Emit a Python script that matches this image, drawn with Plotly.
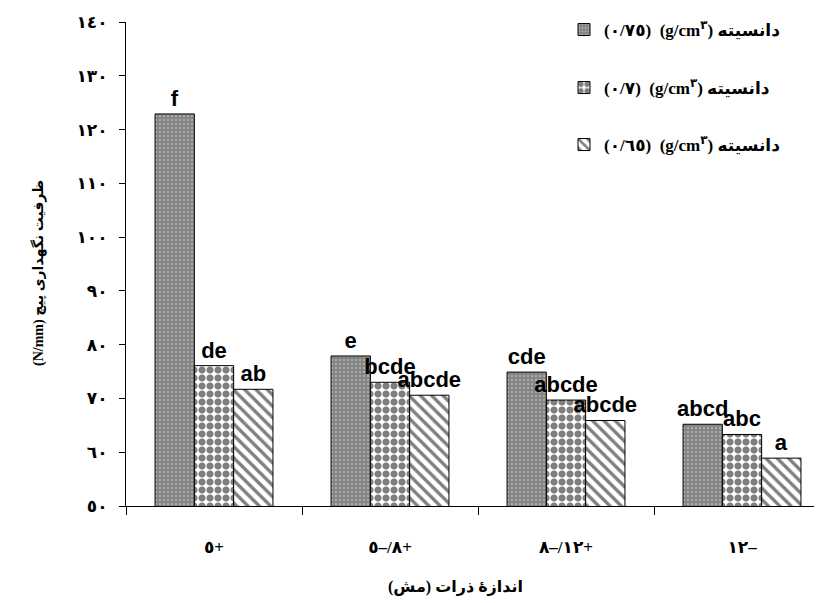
import plotly.graph_objects as go

LRO, PDF, LRM, RLE = "\u202d", "\u202c", "\u200e", "\u202b"

# ---- data ----
categories = ["٥+", "٥–/٨+", "٨–/١٢+", "١٢–"]
density_labels = ["٠/٧٥", "٠/٧", "٠/٦٥"]
s075 = [122.9, 77.9, 74.9, 65.2]
s070 = [76.1, 73.0, 69.7, 63.3]
s065 = [71.7, 70.6, 65.9, 58.9]
l075 = ["f", "e", "cde", "abcd"]
l070 = ["de", "bcde", "abcde", "abc"]
l065 = ["ab", "abcde", "abcde", "a"]
y_ticks = [50, 60, 70, 80, 90, 100, 110, 120, 130, 140]
y_tick_text = ["٥٠", "٦٠", "٧٠", "٨٠", "٩٠", "١٠٠", "١١٠", "١٢٠", "١٣٠", "١٤٠"]
x_title = "اندازه\u0654 ذرات (مش)"
y_title = "ظرفیت نگهداری پیچ (N/mm)"
legend_word = "دانسیته"

# page body has an 8px margin: work in screen pixels, convert to figure pixels
OFF = 8
W, H = 822 - OFF, 603 - OFF
L = 126 - OFF          # plot left (screen 126)
T = 22 - OFF           # plot top (screen 22)
B = H - (506 - OFF)    # plot bottom (screen 506)
plot_w = W - L
plot_h = H - T - B


def px(sx):
    return (sx - OFF - L) / plot_w


def py(sy):
    return (H - B - (sy - OFF)) / plot_h


xcats = [LRO + c + PDF for c in categories]

serif = "Liberation Serif, DejaVu Sans"
sans = "Liberation Sans, Arial"

patterns = [
    dict(shape=".", bgcolor="#858585", fgcolor="#e6e6e6", size=4, solidity=0.22),
    dict(shape=".", bgcolor="white", fgcolor="black", size=8, solidity=0.6),
    dict(shape="\\", bgcolor="white", fgcolor="black", size=8, solidity=0.42),
]
series = [s075, s070, s065]
labels = [l075, l070, l065]
legend_ids = ["legend", "legend2", "legend3"]
legend_y = [30, 88, 145]

fig = go.Figure()
for i in range(3):
    name = f"{LRO}({density_labels[i]}){PDF}  (g/cm<sup>٣</sup>){LRM} {legend_word}"
    fig.add_trace(go.Bar(
        x=xcats, y=series[i], name=name,
        text=labels[i], textposition="outside", textangle=0,
        constraintext="none",
        textfont=dict(family=sans, size=22, color="black", weight="bold"),
        marker=dict(color="white", pattern=patterns[i],
                    line=dict(color="black", width=1)),
        legend=legend_ids[i],
    ))

layout_legends = {}
for i, lid in enumerate(legend_ids):
    layout_legends[lid] = dict(
        xref="paper", yref="paper",
        x=px(564), y=py(legend_y[i]),
        xanchor="left", yanchor="middle",
        bgcolor="rgba(0,0,0,0)", borderwidth=0,
        font=dict(family=serif, size=17, color="black", weight="bold"),
    )

fig.update_layout(
    width=W, height=H,
    margin=dict(l=L, r=0, t=T, b=B, autoexpand=False),
    paper_bgcolor="white", plot_bgcolor="white",
    barmode="group", bargap=0.33, bargroupgap=0,
    showlegend=True,
    **layout_legends,
    xaxis=dict(
        type="category", range=[-0.5, -0.5 + plot_w / 176.0],
        showline=True, linecolor="black", linewidth=1,
        ticks="outside", tickson="boundaries", ticklen=8, tickcolor="black",
        showgrid=False, zeroline=False, automargin=False,
        tickfont=dict(family=serif, size=17, color="black", weight="bold"),
        ticklabelstandoff=26,
    ),
    yaxis=dict(
        range=[50, 140], tickvals=y_ticks, ticktext=y_tick_text,
        showline=True, linecolor="black", linewidth=1,
        ticks="outside", ticklen=6, tickcolor="black",
        showgrid=False, zeroline=False, automargin=False,
        tickfont=dict(family=serif, size=17, color="black", weight="bold"),
        ticklabelstandoff=8,
    ),
    annotations=[
        dict(text=RLE + y_title + PDF, textangle=-90, showarrow=False,
             xref="paper", yref="paper",
             x=px(38), y=py(273),
             xanchor="center", yanchor="middle",
             font=dict(family=serif, size=14, color="black", weight="bold")),
        dict(text=RLE + x_title + PDF, showarrow=False,
             xref="paper", yref="paper",
             x=px(455), y=py(587),
             xanchor="center", yanchor="middle",
             font=dict(family=serif, size=16, color="black", weight="bold")),
    ],
)

fig.write_html("out.html")
